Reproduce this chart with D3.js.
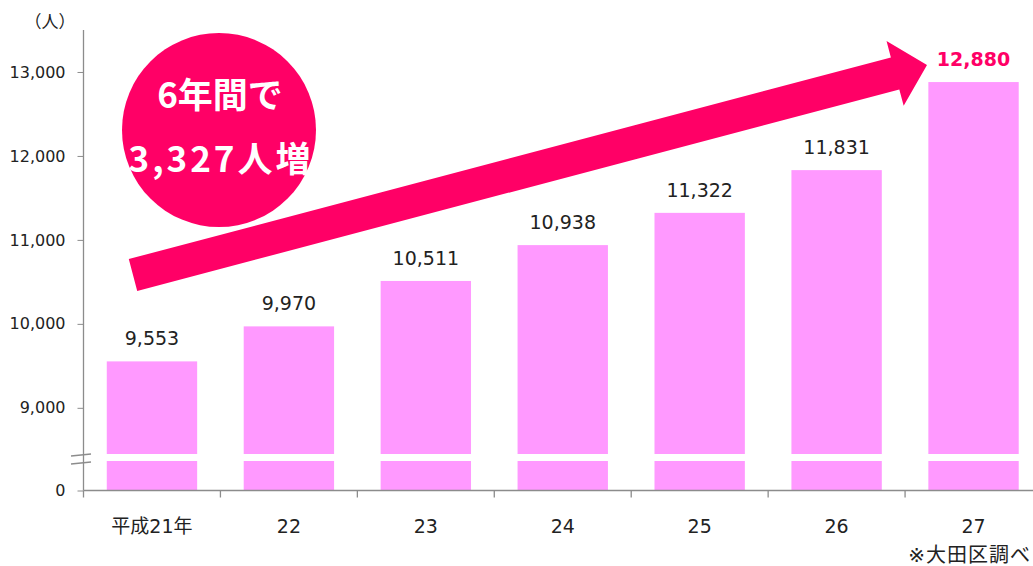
<!DOCTYPE html>
<html>
<head>
<meta charset="utf-8">
<script src="https://cdn.jsdelivr.net/npm/d3@7"></script>
<style>
  html, body { margin: 0; padding: 0; background: #fff; overflow: hidden; }
  svg text { font-family: "DejaVu Sans", "Noto Sans CJK JP", sans-serif; }
</style>
</head>
<body>
<div id="chart"></div>
<script>
// Data
const years = ['平成21年', '22', '23', '24', '25', '26', '27'];
const people = [9553, 9970, 10511, 10938, 11322, 11831, 12880];
const yTicks = [9000, 10000, 11000, 12000, 13000];
const unitLabel = '（人）';
const noteLabel = '※大田区調べ';
const badgeLines = ['6年間で', '3,327人増'];

const width = 1033;
const height = 566;

const svg = d3.select('#chart').append('svg')
    .attr('width', width)
    .attr('height', height);

const axisX = 83.5;
const baseY = 490.5;

// x scale, bands of ~137px
const x = d3.scaleBand()
    .domain(years)
    .range([axisX, 1042])
    .paddingInner(0.34)
    .paddingOuter(0.17);

// broken y scale: upper part for the values, small lower part near zero
const breakValue = 8450;
const yUpper = d3.scaleLinear().domain([breakValue, 13500]).range([454, 30]);
const yLower = d3.scaleLinear().domain([0, 400]).range([baseY, 461]);

const barColor = '#ff99ff';
const accent = '#ff0066';
const axisColor = '#8c8c8c';

// Bars (upper and lower segments)
const bars = svg.append('g');
years.forEach((yr, i) => {
    const v = people[i];
    bars.append('rect')
        .attr('x', x(yr))
        .attr('y', yUpper(v))
        .attr('width', x.bandwidth())
        .attr('height', yUpper(breakValue) - yUpper(v))
        .attr('fill', barColor);
    bars.append('rect')
        .attr('x', x(yr))
        .attr('y', yLower(400))
        .attr('width', x.bandwidth())
        .attr('height', yLower(0) - yLower(400))
        .attr('fill', barColor);
});

// Value labels
svg.append('g').selectAll('text')
    .data(years)
    .join('text')
    .attr('x', d => x(d) + x.bandwidth() / 2)
    .attr('y', (d, i) => yUpper(people[i]) - 16)
    .attr('text-anchor', 'middle')
    .attr('font-size', '19px')
    .attr('font-weight', (d, i) => i === years.length - 1 ? 'bold' : 'normal')
    .attr('fill', (d, i) => i === years.length - 1 ? accent : '#222')
    .text((d, i) => d3.format(',')(people[i]));

// Y axis (upper)
const yAxisUpper = svg.append('g')
    .attr('transform', `translate(${axisX},0)`)
    .call(d3.axisLeft(yUpper).tickValues(yTicks).tickFormat(d3.format(',')).tickSize(6).tickPadding(12));
const yAxisLower = svg.append('g')
    .attr('transform', `translate(${axisX},0)`)
    .call(d3.axisLeft(yLower).tickValues([0]).tickSize(6).tickPadding(12));
[yAxisUpper, yAxisLower].forEach(g => {
    g.select('.domain').remove();
    g.selectAll('.tick line').attr('stroke', axisColor);
    g.selectAll('.tick text')
        .attr('font-size', '16px')
        .attr('fill', '#222')
        .attr('font-family', '"DejaVu Sans", sans-serif');
});

// Y axis line
svg.append('line')
    .attr('x1', axisX).attr('x2', axisX)
    .attr('y1', 30).attr('y2', baseY)
    .attr('stroke', axisColor).attr('stroke-width', 1.3);

// break marks
[456, 464].forEach(yy => {
    svg.append('line')
        .attr('x1', 71).attr('x2', 91)
        .attr('y1', yy).attr('y2', yy - 2)
        .attr('stroke', axisColor).attr('stroke-width', 1.5);
});

// X axis
const xAxis = svg.append('g')
    .attr('transform', `translate(0,${baseY})`);
xAxis.append('line')
    .attr('x1', axisX).attr('x2', width)
    .attr('stroke', axisColor).attr('stroke-width', 1.3);
const step = x.step();
xAxis.selectAll('line.tk')
    .data(d3.range(years.length + 1))
    .join('line')
    .attr('class', 'tk')
    .attr('x1', i => axisX + i * step)
    .attr('x2', i => axisX + i * step)
    .attr('y1', 0).attr('y2', 7)
    .attr('stroke', axisColor).attr('stroke-width', 1.3);
xAxis.selectAll('text')
    .data(years)
    .join('text')
    .attr('x', d => x(d) + x.bandwidth() / 2)
    .attr('y', 42)
    .attr('text-anchor', 'middle')
    .attr('font-size', '19px')
    .attr('fill', '#222')
    .text(d => d);

// unit label
svg.append('text')
    .attr('x', 50).attr('y', 28)
    .attr('text-anchor', 'middle')
    .attr('font-size', '17px')
    .attr('fill', '#222')
    .text(unitLabel);

// note
svg.append('text')
    .attr('x', 1031).attr('y', 562)
    .attr('text-anchor', 'end')
    .attr('font-size', '20px')
    .attr('letter-spacing', '1px')
    .attr('fill', '#222')
    .text(noteLabel);

// Badge circle
svg.append('circle')
    .attr('cx', 219).attr('cy', 130).attr('r', 97)
    .attr('fill', accent);

svg.append('text')
    .attr('x', 220).attr('y', 108)
    .attr('text-anchor', 'middle')
    .attr('font-size', '35px')
    .attr('font-weight', 'bold')
    .attr('fill', '#fff')
    .style('font-family', '"Noto Sans CJK JP", sans-serif')
    .text(badgeLines[0]);

svg.append('text')
    .attr('x', 221).attr('y', 172)
    .attr('text-anchor', 'middle')
    .attr('font-size', '35px')
    .attr('font-weight', 'bold')
    .attr('fill', '#fff')
    .attr('letter-spacing', '3px')
    .style('font-family', '"Noto Sans CJK JP", sans-serif')
    .text(badgeLines[1]);

// Big arrow
const start = [133, 275];
const tip = [927, 65];
const len = Math.hypot(tip[0] - start[0], tip[1] - start[1]);
const ang = Math.atan2(tip[1] - start[1], tip[0] - start[0]) * 180 / Math.PI;
const shaftHalf = 16.5;
const headLen = 33;
const headHalf = 33.5;
const arrowPts = [
    [0, -shaftHalf], [len - headLen, -shaftHalf], [len - headLen, -headHalf],
    [len, 0],
    [len - headLen, headHalf], [len - headLen, shaftHalf], [0, shaftHalf]
];
svg.append('polygon')
    .attr('points', arrowPts.map(p => p.join(',')).join(' '))
    .attr('transform', `translate(${start[0]},${start[1]}) rotate(${ang})`)
    .attr('fill', accent);
</script>
</body>
</html>
